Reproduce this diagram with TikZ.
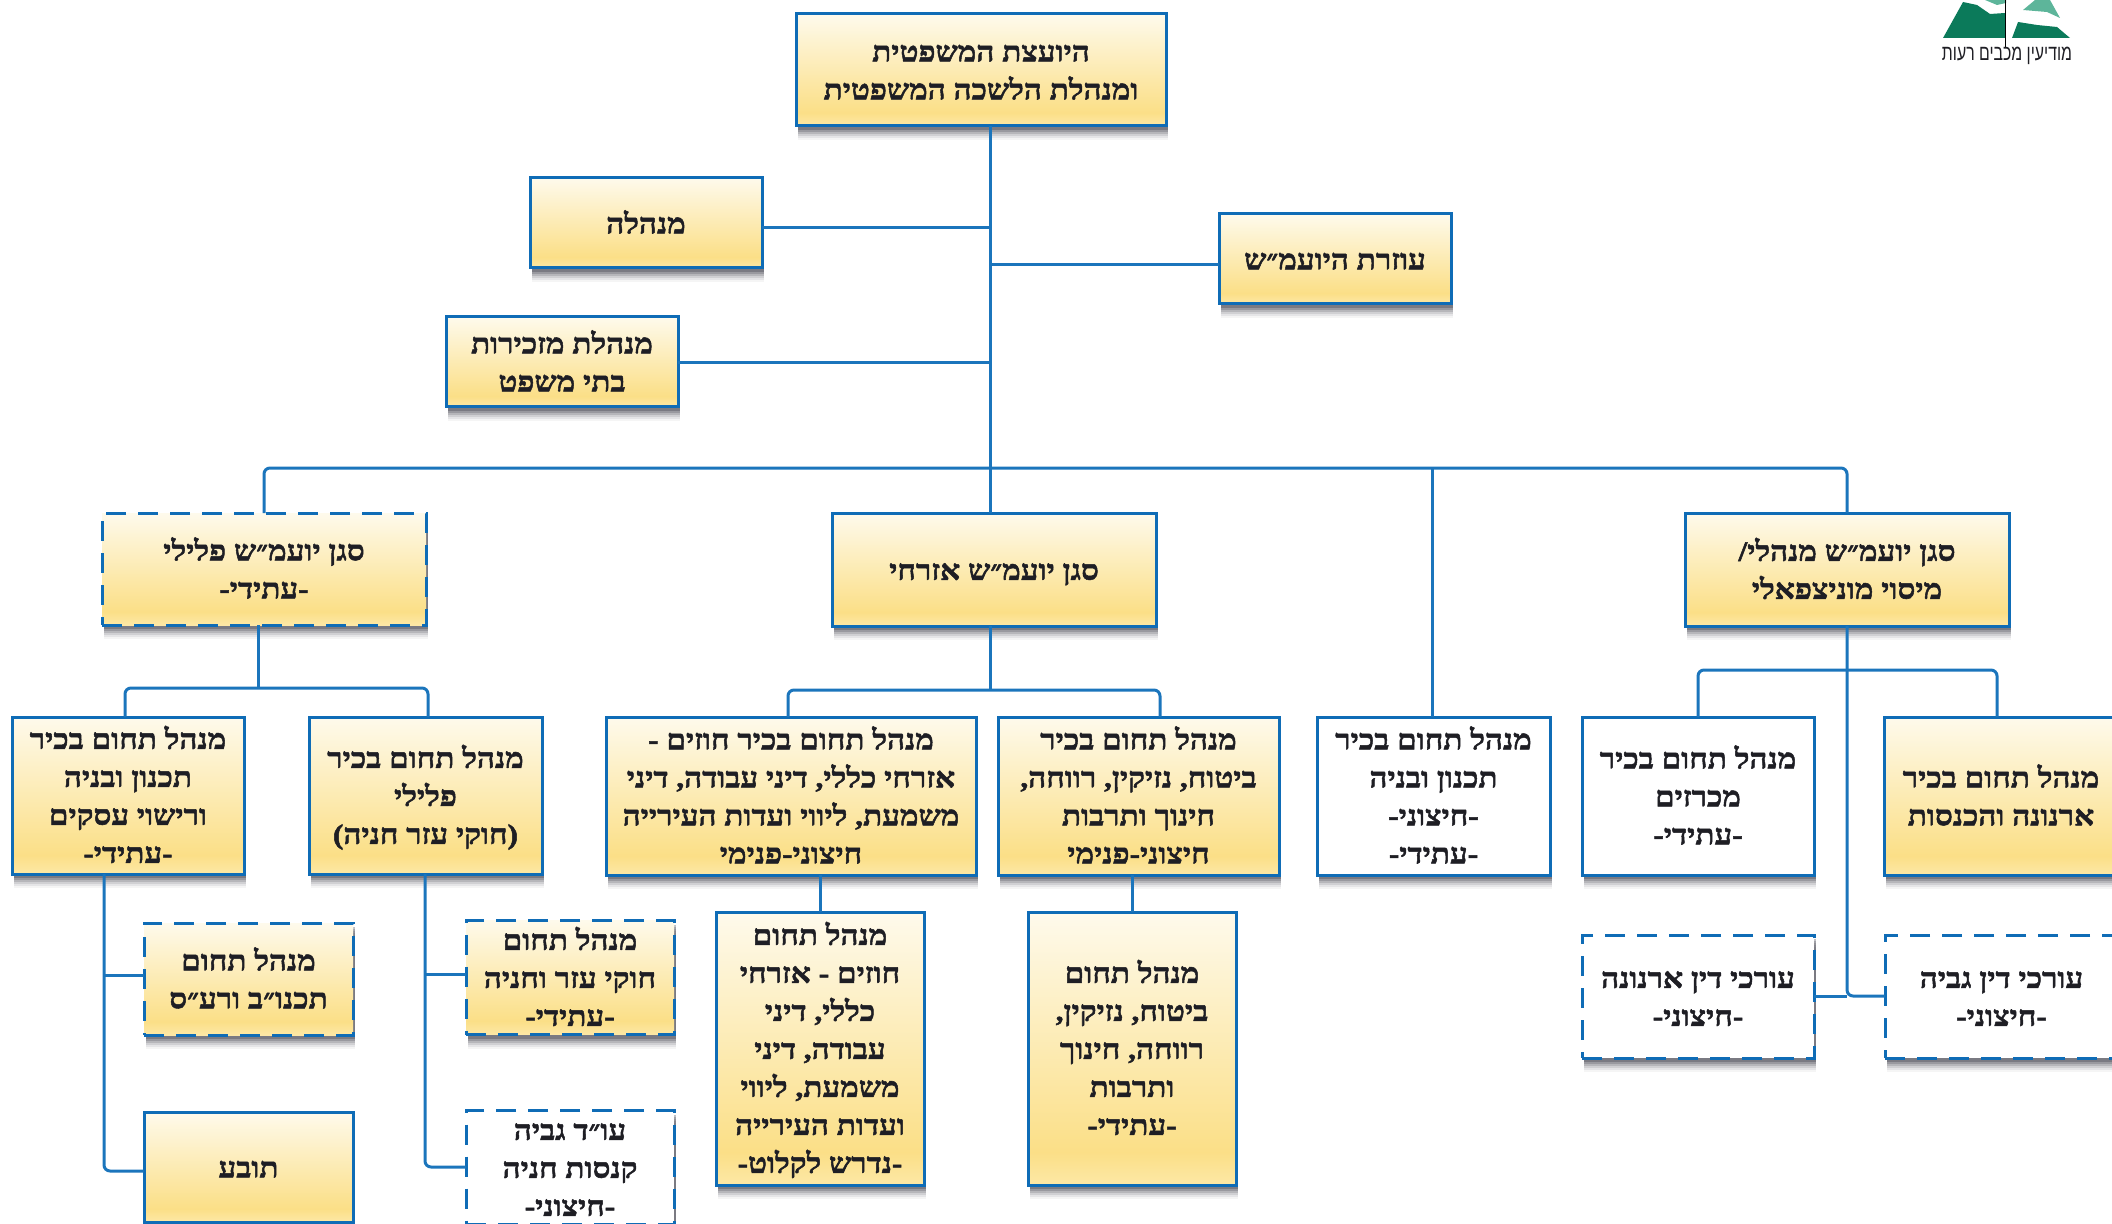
\documentclass[tikz,border=0pt]{standalone}
\usepackage{fontspec}
\usetikzlibrary{shadows}
\TeXXeTstate=1
\newfontfamily\hebf{Liberation Serif}[Script=Hebrew,FakeStretch=1.12,BoldFeatures={FakeBold=1.8}]
\newfontfamily\logof{Liberation Sans}[Script=Hebrew,FakeStretch=0.72]
\definecolor{edgeblue}{HTML}{0F6CB6}
\definecolor{linkblue}{HTML}{1B75BC}
\definecolor{inkdark}{HTML}{1E1E24}
\definecolor{shadowc}{HTML}{33333F}
\definecolor{goldA}{HTML}{FEFAEC}
\definecolor{goldB}{HTML}{FBDF87}
\definecolor{goldC}{HTML}{FDE8A6}
\definecolor{logoD}{HTML}{0B7A5A}
\definecolor{logoL}{HTML}{5DB59A}
\pgfdeclareverticalshading{goldbar}{100bp}{color(0bp)=(goldC);color(25bp)=(goldC);color(31bp)=(goldB);color(75bp)=(goldA);color(100bp)=(goldA)}
\newcommand{\rl}[1]{\rule[-.23\baselineskip]{0pt}{\baselineskip}\beginR #1\endR}
\newcommand{\orgbox}[7]{%
  \pgfmathsetmacro\bw{(#5-#3)*0.5}%
  \pgfmathsetmacro\bh{(#6-#4)*0.5}%
  \node[#1,minimum width=\bw pt,minimum height=\bh pt] (#2) at ({(#3+#5)/2},{(#4+#6)/2}) {#7};}
\tikzset{
  softshadow/.style={
    drop shadow={shadow xshift=1pt,shadow yshift=-7pt,fill=shadowc,opacity=.05},
    drop shadow={shadow xshift=1pt,shadow yshift=-6pt,fill=shadowc,opacity=.08},
    drop shadow={shadow xshift=1pt,shadow yshift=-5pt,fill=shadowc,opacity=.12},
    drop shadow={shadow xshift=1pt,shadow yshift=-4pt,fill=shadowc,opacity=.16},
    drop shadow={shadow xshift=1pt,shadow yshift=-3pt,fill=shadowc,opacity=.22},
    drop shadow={shadow xshift=1pt,shadow yshift=-2pt,fill=shadowc,opacity=.30}},
  basebox/.style={rectangle,draw=edgeblue,line width=1.5pt,inner sep=0pt,outer sep=0pt,align=center,
    text=inkdark,font=\hebf\bfseries\fontsize{14}{19}\selectfont,softshadow},
  goldsolid/.style={basebox,shading=goldbar},
  goldhatch/.style={basebox,shading=goldbar,dash pattern=on 10pt off 6pt},
  whitesolid/.style={basebox,fill=white},
  whitehatch/.style={basebox,fill=white,dash pattern=on 10pt off 6pt},
  link/.style={draw=linkblue,line width=1.5pt,rounded corners=3pt}
}
\begin{document}
\begin{tikzpicture}[x=0.5pt,y=-0.5pt]
\useasboundingbox (0,0) rectangle (2112,1224);
\clip (0,0) rectangle (2112,1224);
% top level
\orgbox{goldsolid}{top}{796}{14}{1166}{126}{\rl{היועצת המשפטית}\\\rl{ומנהלת הלשכה המשפטית}}
\orgbox{goldsolid}{man}{530}{178}{762}{268}{\rl{מנהלה}}
\orgbox{goldsolid}{aid}{1219}{214}{1451}{304}{\rl{עוזרת היועמ״ש}}
\orgbox{goldsolid}{sec}{446}{317}{678}{407}{\rl{מנהלת מזכירות}\\\rl{בתי משפט}}
% deputies
\orgbox{goldhatch}{crim}{102}{513}{426}{625}{\rl{סגן יועמ״ש פלילי}\\\rl{-עתידי-}}
\orgbox{goldsolid}{civ}{832}{513}{1156}{626}{\rl{סגן יועמ״ש אזרחי}}
\orgbox{goldsolid}{mgm}{1685}{513}{2009}{626}{\rl{סגן יועמ״ש מנהלי/}\\\rl{מיסוי מוניצפאלי}}
% second row
\orgbox{goldsolid}{rA}{12}{717}{244}{874}{\rl{מנהל תחום בכיר}\\\rl{תכנון ובניה}\\\rl{ורישוי עסקים}\\\rl{-עתידי-}}
\orgbox{goldsolid}{rB}{309}{717}{542}{874}{\rl{מנהל תחום בכיר}\\\rl{פלילי}\\\rl{(חוקי עזר חניה)}}
\orgbox{goldsolid}{rC}{606}{717}{976}{875}{\rl{מנהל תחום בכיר חוזים -}\\\rl{אזרחי כללי, דיני עבודה, דיני}\\\rl{משמעת, ליווי ועדות העירייה}\\\rl{חיצוני-פנימי}}
\orgbox{goldsolid}{rD}{998}{717}{1279}{875}{\rl{מנהל תחום בכיר}\\\rl{ביטוח, נזיקין, רווחה,}\\\rl{חינוך ותרבות}\\\rl{חיצוני-פנימי}}
\orgbox{whitesolid}{rP}{1317}{717}{1550}{875}{\rl{מנהל תחום בכיר}\\\rl{תכנון ובניה}\\\rl{-חיצוני-}\\\rl{-עתידי-}}
\orgbox{whitesolid}{rE}{1582}{717}{1814}{875}{\rl{מנהל תחום בכיר}\\\rl{מכרזים}\\\rl{-עתידי-}}
\orgbox{goldsolid}{rF}{1884}{717}{2118}{875}{\rl{מנהל תחום בכיר}\\\rl{ארנונה והכנסות}}
% third row
\orgbox{goldhatch}{tA}{144}{923}{353}{1035}{\rl{מנהל תחום}\\\rl{תכנו״ב ורע״ס}}
\orgbox{goldsolid}{tT}{144}{1112}{353}{1222}{\rl{תובע}}
\orgbox{goldhatch}{tB}{466}{922}{674}{1033}{\rl{מנהל תחום}\\\rl{חוקי עזר וחניה}\\\rl{-עתידי-}}
\orgbox{whitehatch}{tG}{466}{1112}{674}{1223}{\rl{עו״ד גביה}\\\rl{קנסות חניה}\\\rl{-חיצוני-}}
\orgbox{goldsolid}{tC}{716}{912}{924}{1185}{\rl{מנהל תחום}\\\rl{חוזים - אזרחי}\\\rl{כללי, דיני}\\\rl{עבודה, דיני}\\\rl{משמעת, ליווי}\\\rl{ועדות העירייה}\\\rl{-נדרש לקלוט-}}
\orgbox{goldsolid}{tD}{1028}{912}{1236}{1185}{\rl{מנהל תחום}\\\rl{ביטוח, נזיקין,}\\\rl{רווחה, חינוך}\\\rl{ותרבות}\\\rl{-עתידי-}}
\orgbox{whitehatch}{tE}{1582}{935}{1814}{1058}{\rl{עורכי דין ארנונה}\\\rl{-חיצוני-}}
\orgbox{whitehatch}{tF}{1885}{935}{2118}{1058}{\rl{עורכי דין גביה}\\\rl{-חיצוני-}}
% junction coordinates
\coordinate (trunk) at (990,468);
\coordinate (jman) at (990,228);
\coordinate (jaid) at (990,265);
\coordinate (jsec) at (990,363);
\coordinate (jcivL) at (788,690);
\coordinate (jcivR) at (1160,690);
\coordinate (jcrim) at (258,688);
\coordinate (jcrimL) at (125,688);
\coordinate (jcrimR) at (428,688);
\coordinate (jmgmL) at (1698,670);
\coordinate (jmgmR) at (1997,670);
\coordinate (jlowA) at (104,975);
\coordinate (jlowAb) at (104,1171);
\coordinate (jlowB) at (425,974);
\coordinate (jlowBb) at (425,1167);
\coordinate (jtE) at (1847,996);
\coordinate (jCd) at (820,911);
\coordinate (jDd) at (1132,911);
\coordinate (jPl) at (1432,468);
% connectors
\draw[link] (top.south -| trunk) -- (civ.north -| trunk);
\draw[link] (man.east |- jman) -- (jman);
\draw[link] (aid.west |- jaid) -- (jaid);
\draw[link] (sec.east |- jsec) -- (jsec);
\draw[link] (crim.north) -- (crim.north |- trunk) -- (mgm.north |- trunk) -- (mgm.north);
\draw[link] (jPl) -- (jPl |- rP.north);
\draw[link] (civ.south -| jman) -- (jman |- jcivL);
\draw[link] (jcivL |- rC.north) -- (jcivL) -- (jcivR) -- (jcivR |- rD.north);
\draw[link] (crim.south -| jcrim) -- (jcrim);
\draw[link] (jcrimL |- rA.north) -- (jcrimL) -- (jcrimR) -- (jcrimR |- rB.north);
\draw[link] (rA.south -| jlowA) -- (jlowAb) -- (tT.west |- jlowAb);
\draw[link] (jlowA) -- (tA.west |- jlowA);
\draw[link] (rB.south -| jlowB) -- (jlowBb) -- (tG.west |- jlowBb);
\draw[link] (jlowB) -- (tB.west |- jlowB);
\draw[link] (rC.south -| jCd) -- (tC.north);
\draw[link] (rD.south -| jDd) -- (tD.north);
\draw[link] (mgm.south) -- (mgm.south |- jtE) -- (tF.west |- jtE);
\draw[link] (tE.east |- jtE) -- (jtE);
\draw[link] (jmgmL |- rE.north) -- (jmgmL) -- (jmgmR) -- (jmgmR |- rF.north);
% logo
\fill[logoD] (1943,38) -- (1963,2) -- (1977,5) -- (1990,14) -- (2005,13) -- (2005,38) -- cycle;
\fill[logoD] (2012,38) -- (2018,22) -- (2037,25) -- (2057,27) -- (2070,38) -- cycle;
\fill[logoL] (2023,10) -- (2035,0) -- (2050,0) -- (2060,18) -- (2047,12) -- cycle;
\fill[logoL] (1985,0) -- (2006,0) -- (2006,3) -- (1997,5) -- cycle;
\draw[black,line width=0.5pt] (2005.5,0) -- (2005.5,47);
\node[inner sep=0pt,text=inkdark,font=\logof\fontsize{11}{12}\selectfont] (logotext) at (2007,56) {\beginR מודיעין מכבים רעות\endR};
\end{tikzpicture}
\end{document}
